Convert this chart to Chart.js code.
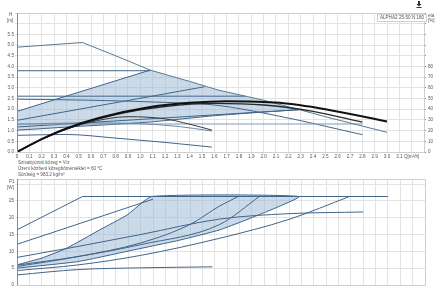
<!DOCTYPE html>
<html>
<head>
<meta charset="utf-8">
<script src="https://cdn.jsdelivr.net/npm/chart.js@4.4.0/dist/chart.umd.min.js"></script>
<style>
  body { margin: 0; background: #fff; width: 440px; height: 297px; overflow: hidden; position: relative; font-family: "Liberation Sans", Arial, sans-serif; }
  canvas { position: absolute; left: 0; }
  .lbl { position: absolute; font-size: 4.6px; line-height: 5px; color: #555; white-space: nowrap; }
  .box { position: absolute; border: 1px solid #cfcfcf; background: #fff; font-size: 4.6px; line-height: 6px; color: #555; padding: 0 2px; }
  .dl { position: absolute; left: 416px; top: 1px; width: 6px; height: 7px; }
</style>
</head>
<body>
<canvas id="head-chart" width="440" height="160" style="top:0"></canvas>
<canvas id="power-chart" width="440" height="125" style="top:172px"></canvas>

<div class="lbl" style="left:9px;top:12px;">H</div>
<div class="lbl" style="left:7px;top:18px;">[m]</div>
<div class="lbl" style="left:428px;top:13px;">eta</div>
<div class="lbl" style="left:428px;top:18px;">[%]</div>
<div class="box" style="left:377px;top:14px;">ALPHA2 25-50 N 180</div>
<div class="lbl" style="left:18px;top:160px;">Szivattyúzott közeg = Víz</div>
<div class="lbl" style="left:18px;top:166px;">Üzem közbeni közeghőmérséklet = 60 °C</div>
<div class="lbl" style="left:18px;top:172px;">Sűrűség = 983.2 kg/m³</div>
<div class="lbl" style="left:9px;top:179px;">P1</div>
<div class="lbl" style="left:7px;top:185px;">[W]</div>
<svg class="dl" viewBox="0 0 6 7"><path d="M2 0h2v3h1.6L3 5.6 0.4 3H2z" fill="#333"/><rect x="0.5" y="6" width="5" height="1" fill="#333"/></svg>

<script>
// Q axis range (m3/h)
const qTicksMax = 3.3;

// Head curves, H [m]
const maxQ = [0, 0.53, 0.8, 1.08, 1.4, 1.63, 2.0, 2.29, 2.5, 3.0];
const maxH = [4.9, 5.12, 4.5, 3.83, 3.3, 2.9, 2.42, 1.98, 1.65, 0.92];
const cp3Q = [0, 1.08];
const cp3H = [3.8, 3.8];
const cp2Q = [0, 1.85];
const cp2H = [2.61, 2.61];
const cp1Q = [0, 2.8];
const cp1H = [1.31, 1.31];
const pp3Q = [0, 1.08];
const pp3H = [1.9, 3.83];
const pp2Q = [0, 1.52];
const pp2H = [1.48, 3.05];
const pp1Q = [0, 2.29];
const pp1H = [1.17, 1.98];
const lowQ = [0, 0.5, 1.08, 1.6, 2.29];
const lowH = [1.02, 1.2, 1.4, 1.7, 1.98];
const curve2Q = [0, 0.6, 1.2, 1.6, 2.13, 2.8];
const curve2H = [2.47, 2.42, 2.32, 2.2, 1.67, 0.81];
const curveMidQ = [0, 0.5, 1.0, 1.3, 1.58];
const curveMidH = [1.3, 1.36, 1.32, 1.2, 0.98];
const curve1Q = [0, 0.4, 0.8, 1.2, 1.58];
const curve1H = [0.78, 0.82, 0.65, 0.45, 0.23];
// AUTOADAPT area outline
const areaQ = [0, 1.08, 1.4, 1.63, 2.0, 2.29, 1.6, 1.08, 0.5, 0];
const areaH = [1.9, 3.83, 3.3, 2.9, 2.42, 1.98, 1.7, 1.4, 1.2, 1.02];

// Efficiency curves, eta [%]
const eta3Q = [0, 0.2, 0.4, 0.67, 1.08, 1.4, 1.7, 2.13, 2.5, 3.0];
const eta3 = [0, 12, 22, 32, 42, 46, 47.5, 46, 40, 28.5];
const eta2Q = [0, 0.2, 0.4, 0.8, 1.2, 1.6, 2.0, 2.4, 2.8];
const eta2 = [0, 12, 21.5, 35, 42.5, 45.5, 44, 38, 28];
const eta1Q = [0, 0.3, 0.6, 0.9, 1.2, 1.4, 1.58];
const eta1 = [0, 17, 28, 33, 31, 26, 20.5];

// Power curves, P1 [W]
const pMaxQ = [0, 0.53, 3.0];
const pMax = [16.4, 26.3, 26.3];
const pPp3Q = [0, 1.1];
const pPp3 = [12.1, 25.5];
const pCurve2Q = [0, 0.5, 1.0, 1.64, 2.2, 2.8];
const pCurve2 = [8.2, 11.5, 15, 19.6, 21.2, 21.7];
const pLineAQ = [0, 0.5, 1.0, 1.4, 1.64, 1.79];
const pLineA = [5.5, 8.5, 12.5, 18, 23.5, 26.3];
const pLineBQ = [0, 0.5, 1.0, 1.64, 1.96];
const pLineB = [5.9, 8.5, 12, 18, 26.3];
const pLineCQ = [0, 0.5, 1.0, 1.64, 2.2, 2.69];
const pLineC = [4.3, 6, 8.8, 13.9, 19.5, 26.3];
const pCurve1Q = [0, 0.5, 1.0, 1.58];
const pCurve1 = [3.0, 4.6, 5.1, 5.4];
const pAreaQ = [0, 0.2, 0.4, 0.67, 0.89, 1.09, 2.28, 2.0, 1.64, 1.3, 0.94, 0.5, 0];
const pArea = [6.0, 8.0, 10.9, 16.4, 20.8, 26.3, 26.3, 21.5, 16.4, 13.2, 10.4, 7, 5.0];

const blue = '#41658c';
const fillBlue = 'rgba(150,182,210,0.5)';
const gridCol = '#e3e3e3';
const tickCol = '#555';
const tickFont = { family: '"Liberation Sans", Arial, sans-serif', size: 4.6 };

function pts(qs, vs) {
    return qs.map((q, i) => ({ x: q, y: vs[i] }));
}

function line(qs, vs, opts) {
    return Object.assign({
        data: pts(qs, vs),
        borderColor: blue,
        borderWidth: 1,
        pointRadius: 0,
        fill: false,
        tension: 0
    }, opts || {});
}

// light frame round the plot area
const framePlugin = {
    id: 'frame',
    afterDraw(chart) {
        const a = chart.chartArea;
        const ctx = chart.ctx;
        ctx.save();
        ctx.strokeStyle = '#cfcfcf';
        ctx.lineWidth = 1;
        ctx.strokeRect(a.left + 0.5, a.top + 0.5, a.right - a.left, a.bottom - a.top);
        ctx.strokeStyle = '#8a8a8a';
        ctx.beginPath();
        ctx.moveTo(a.left + 0.5, a.top);
        ctx.lineTo(a.left + 0.5, a.bottom);
        ctx.stroke();
        ctx.restore();
    }
};

function xAxis(showLabels, height) {
    return {
        type: 'linear',
        min: 0,
        max: qTicksMax,
        afterFit: s => { s.height = height; },
        grid: { color: gridCol, tickLength: showLabels ? 2 : 0 },
        border: { display: false },
        ticks: {
            display: showLabels,
            stepSize: 0.1,
            autoSkip: false,
            maxRotation: 0,
            includeBounds: false,
            padding: 0,
            color: tickCol,
            font: tickFont,
            callback: v => {
                const t = Math.round(v * 10);
                if (t === 32) return 'Q[m³/h]';
                if (t > 31) return '';
                return t === 0 ? '0' : (t / 10).toFixed(1);
            }
        }
    };
}

const headChart = new Chart(document.getElementById('head-chart'), {
    type: 'line',
    data: {
        datasets: [
            line(eta3Q, eta3, { yAxisID: 'y2', borderColor: '#111', borderWidth: 2, cubicInterpolationMode: 'monotone' }),
            line(eta2Q, eta2, { yAxisID: 'y2', borderColor: '#2a2a2a', borderWidth: 1.4, cubicInterpolationMode: 'monotone' }),
            line(eta1Q, eta1, { yAxisID: 'y2', borderColor: '#3a3a3a', borderWidth: 1, cubicInterpolationMode: 'monotone' }),
            line(maxQ, maxH, { borderColor: '#587898' }),
            line(cp3Q, cp3H),
            line(cp2Q, cp2H),
            line(cp1Q, cp1H, { borderColor: '#7d9ab8' }),
            line(pp3Q, pp3H),
            line(pp2Q, pp2H),
            line(pp1Q, pp1H),
            line(lowQ, lowH, { cubicInterpolationMode: 'monotone' }),
            line(curve2Q, curve2H, { cubicInterpolationMode: 'monotone' }),
            line(curveMidQ, curveMidH, { borderColor: '#6d87a3', cubicInterpolationMode: 'monotone' }),
            line(curve1Q, curve1H, { cubicInterpolationMode: 'monotone' }),
            line(areaQ, areaH, { borderWidth: 0, backgroundColor: fillBlue, fill: 'shape' })
        ]
    },
    options: {
        responsive: false,
        animation: false,
        layout: { padding: { top: 13, left: 0, right: 0, bottom: 0 } },
        plugins: { legend: { display: false }, tooltip: { enabled: false } },
        scales: {
            x: xAxis(true, 8),
            y: {
                min: 0,
                max: 6.5,
                afterFit: s => { s.width = 17; },
                grid: { color: gridCol, tickLength: 2 },
                border: { display: false },
                ticks: {
                    stepSize: 0.5,
                    includeBounds: false,
                    padding: 1,
                    color: tickCol,
                    font: tickFont,
                    callback: v => (v > 5.6 ? '' : v.toFixed(1))
                }
            },
            y2: {
                position: 'right',
                min: 0,
                max: 130,
                afterFit: s => { s.width = 16; },
                grid: { drawOnChartArea: false, tickLength: 2, color: '#8a8a8a' },
                border: { display: true, color: '#8a8a8a' },
                ticks: {
                    stepSize: 10,
                    includeBounds: false,
                    padding: 2,
                    color: tickCol,
                    font: tickFont,
                    callback: v => (v > 80 ? '' : String(v))
                }
            }
        }
    },
    plugins: [framePlugin]
});

const powerChart = new Chart(document.getElementById('power-chart'), {
    type: 'line',
    data: {
        datasets: [
            line(pMaxQ, pMax),
            line(pPp3Q, pPp3),
            line(pCurve2Q, pCurve2, { cubicInterpolationMode: 'monotone' }),
            line(pLineAQ, pLineA, { cubicInterpolationMode: 'monotone' }),
            line(pLineBQ, pLineB, { cubicInterpolationMode: 'monotone' }),
            line(pLineCQ, pLineC, { cubicInterpolationMode: 'monotone' }),
            line(pCurve1Q, pCurve1, { cubicInterpolationMode: 'monotone' }),
            line(pAreaQ, pArea, { borderColor: '#3f6289', backgroundColor: fillBlue, fill: 'shape', tension: 0.15 })
        ]
    },
    options: {
        responsive: false,
        animation: false,
        layout: { padding: { top: 7, left: 0, right: 15, bottom: 0 } },
        plugins: { legend: { display: false }, tooltip: { enabled: false } },
        scales: {
            x: xAxis(false, 12),
            y: {
                min: 0,
                max: 31.5,
                afterFit: s => { s.width = 17; },
                grid: { color: gridCol, tickLength: 2 },
                border: { display: false },
                ticks: {
                    stepSize: 5,
                    includeBounds: false,
                    padding: 1,
                    color: tickCol,
                    font: tickFont,
                    callback: v => (v > 26 ? '' : String(v))
                }
            }
        }
    },
    plugins: [framePlugin]
});
</script>
</body>
</html>
